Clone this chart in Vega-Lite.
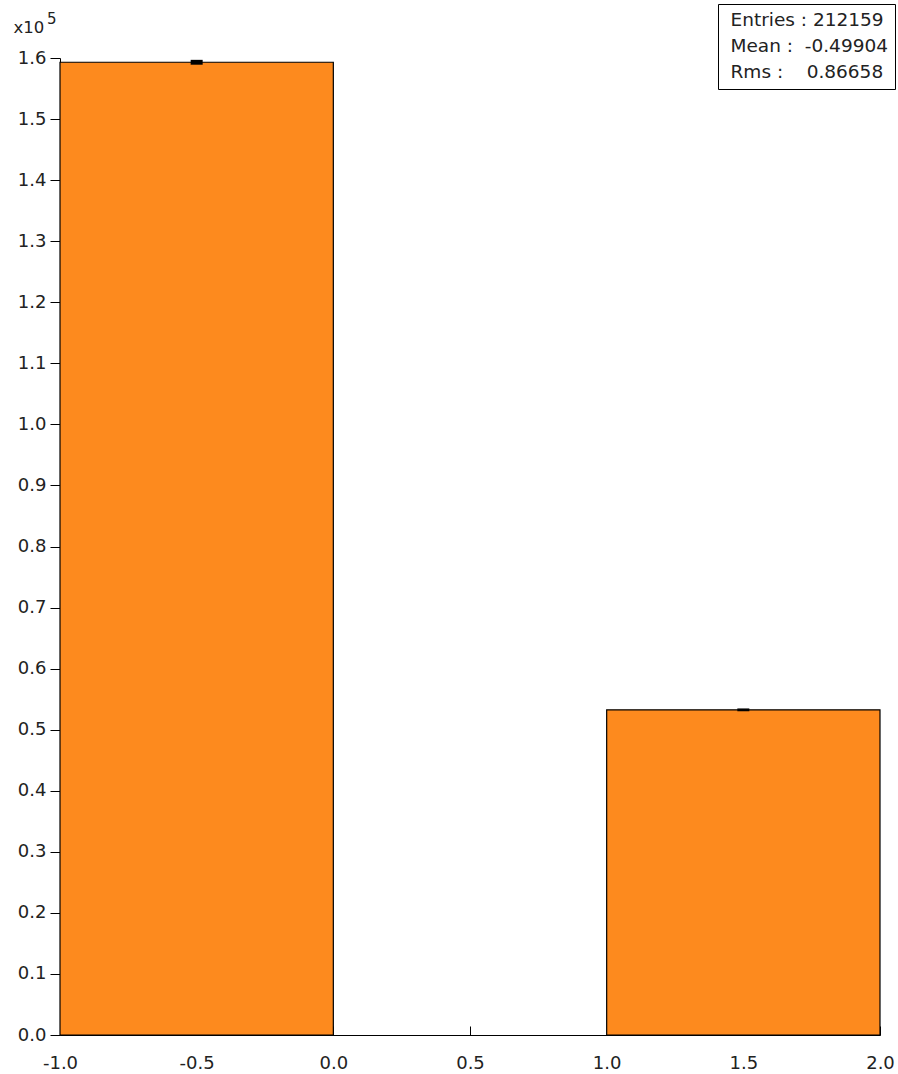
{
  "$schema": "https://vega.github.io/schema/vega-lite/v6.json",
  "width": 820,
  "height": 977,
  "autosize": {"type": "none"},
  "padding": {"left": 60, "top": 58, "right": 18, "bottom": 39},
  "background": "white",
  "config": {"view": {"stroke": null}, "font": "DejaVu Sans"},
  "title": {"text": "5", "anchor": "start", "frame": "group", "fontSize": 15, "fontWeight": "normal", "color": "#222", "font": "DejaVu Sans", "offset": 0, "dx": -13, "dy": 23},
  "datasets": {
    "bins": [
      {"lo": -1, "hi": 0, "center": -0.5, "count": 159300, "err_lo": 158901, "err_hi": 159699},
      {"lo": 1, "hi": 2, "center": 1.5, "count": 53250, "err_lo": 53019, "err_hi": 53481}
    ],
    "stats": [
      {"label": "Entries : 212159"},
      {"label": "Mean : \u00a0-0.49904"},
      {"label": "Rms : \u00a0\u00a0\u00a00.86658"}
    ]
  },
  "layer": [
    {
      "data": {"name": "bins"},
      "mark": {"type": "bar", "fill": "#fd8a1e", "stroke": "black", "strokeWidth": 1.2},
      "encoding": {
        "x": {
          "field": "lo", "type": "quantitative",
          "scale": {"domain": [-1, 2], "nice": false, "zero": false},
          "axis": {
            "values": [-1, -0.5, 0, 0.5, 1, 1.5, 2],
            "labelExpr": "datum.value < 0 ? '-' + format(-datum.value, '.1f') : format(datum.value, '.1f')",
            "title": null, "grid": false, "tickSize": -9, "labelPadding": 28,
            "labelFlush": false, "labelOverlap": false,
            "domainColor": "black", "tickColor": "black", "labelColor": "#222",
            "labelFontSize": 18, "labelFont": "DejaVu Sans"
          }
        },
        "x2": {"field": "hi"},
        "y": {
          "field": "count", "type": "quantitative",
          "scale": {"domain": [0, 160000], "nice": false},
          "axis": {
            "values": [0, 10000, 20000, 30000, 40000, 50000, 60000, 70000, 80000, 90000, 100000, 110000, 120000, 130000, 140000, 150000, 160000],
            "labelExpr": "format(datum.value / 100000, '.1f')",
            "title": "x10", "titleAngle": 0, "titleX": -47, "titleY": -26,
            "titleAlign": "left", "titleBaseline": "alphabetic", "titleFontWeight": "normal",
            "titleFontSize": 16.5, "titleColor": "#222", "titleFont": "DejaVu Sans",
            "grid": false, "tickSize": 10, "labelPadding": 4, "labelOverlap": false, "labelFlush": false,
            "domainColor": "black", "tickColor": "black", "labelColor": "#222",
            "labelFontSize": 18, "labelFont": "DejaVu Sans"
          }
        },
        "y2": {"datum": 0}
      }
    },
    {
      "data": {"name": "bins"},
      "mark": {"type": "rule", "strokeWidth": 12, "color": "black", "strokeCap": "butt"},
      "encoding": {
        "x": {"field": "center", "type": "quantitative"},
        "y": {"field": "err_lo", "type": "quantitative"},
        "y2": {"field": "err_hi"}
      }
    },
    {
      "data": {"name": "stats"},
      "mark": {"type": "point", "opacity": 0},
      "encoding": {
        "color": {
          "field": "label", "type": "nominal",
          "scale": {"domain": ["Entries : 212159", "Mean : \u00a0-0.49904", "Rms : \u00a0\u00a0\u00a00.86658"], "range": ["black", "black", "black"]},
          "legend": {
            "title": null, "orient": "none", "legendX": 658, "legendY": -54,
            "padding": 7, "strokeColor": "black", "fillColor": "white",
            "symbolSize": 0, "symbolOpacity": 0, "symbolStrokeWidth": 0,
            "labelOffset": -13, "labelFontSize": 18.5, "labelFont": "DejaVu Sans",
            "labelColor": "#222", "rowPadding": 7, "labelLimit": 300
          }
        }
      }
    }
  ]
}
